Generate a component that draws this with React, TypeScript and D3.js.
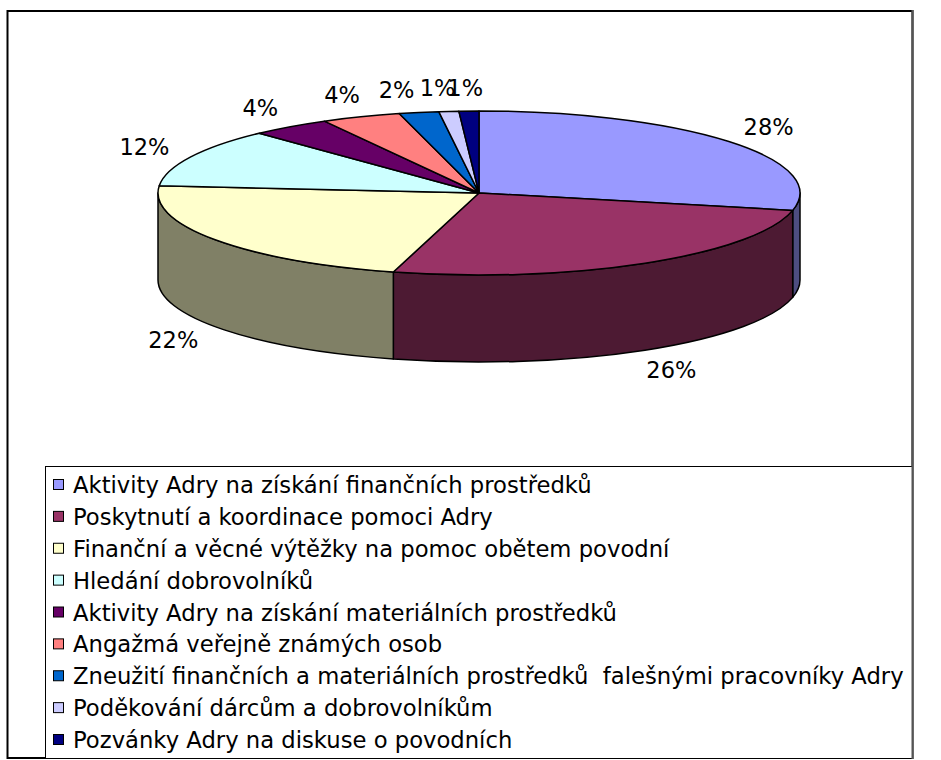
import * as d3 from 'd3';
import { useEffect, useRef } from 'react';

const categories = [
  'Aktivity Adry na získání finančních prostředků',
  'Poskytnutí a koordinace pomoci Adry',
  'Finanční a věcné výtěžky na pomoc obětem povodní',
  'Hledání dobrovolníků',
  'Aktivity Adry na získání materiálních prostředků',
  'Angažmá veřejně známých osob',
  'Zneužití finančních a materiálních prostředků  falešnými pracovníky Adry',
  'Poděkování dárcům a dobrovolníkům',
  'Pozvánky Adry na diskuse o povodních',
];
const shares = [28.4, 25.9, 22.1, 11.6, 4.0, 4.0, 2.0, 1.0, 1.0];
const percentLabels = ['28%', '26%', '22%', '12%', '4%', '4%', '2%', '1%', '1%'];
const colors = ['#9999FF', '#993366', '#FFFFCC', '#CCFFFF', '#660066', '#FF8080', '#0066CC', '#CCCCFF', '#000080'];

const W = 941;
const H = 760;
const FONT = 'DejaVu Sans, Verdana, sans-serif';

function Pie3D() {
  const ref = useRef<SVGSVGElement | null>(null);

  useEffect(() => {
    const svg = d3.select(ref.current);
    svg.selectAll('*').remove();

    const cx = 479;
    const cy = 193;
    const rx = 321;
    const ry = 82;
    const depth = 87;

    // chart area border
    svg.append('rect')
      .attr('x', 7.5).attr('y', 11)
      .attr('width', 905).attr('height', 747)
      .attr('fill', '#fff').attr('stroke', '#000').attr('stroke-width', 2);

    const arcs = d3.pie<number>().sort(null).value((d) => d)(shares);

    const pt = (a: number, dy = 0) => [cx + rx * Math.sin(a), cy - ry * Math.cos(a) + dy];
    const dark = (c: string) => {
      const k = d3.rgb(c);
      return d3.rgb(k.r * 0.5, k.g * 0.5, k.b * 0.5).formatHex();
    };

    // front side walls
    const g = svg.append('g').attr('stroke', '#000').attr('stroke-width', 1.5).attr('stroke-linejoin', 'round');
    arcs.forEach((d, i) => {
      const a0 = Math.max(d.startAngle, Math.PI / 2);
      const a1 = Math.min(d.endAngle, (3 * Math.PI) / 2);
      if (a1 <= a0) return;
      const [x0, y0] = pt(a0);
      const [x1, y1] = pt(a1);
      const large = a1 - a0 > Math.PI ? 1 : 0;
      const path = `M${x0},${y0}A${rx},${ry} 0 ${large} 1 ${x1},${y1}`
        + `L${x1},${y1 + depth}A${rx},${ry} 0 ${large} 0 ${x0},${y0 + depth}Z`;
      g.append('path').attr('d', path).attr('fill', dark(colors[i]));
    });

    // top faces
    arcs.forEach((d, i) => {
      const [x0, y0] = pt(d.startAngle);
      const [x1, y1] = pt(d.endAngle);
      const large = d.endAngle - d.startAngle > Math.PI ? 1 : 0;
      const path = `M${cx},${cy}L${x0},${y0}A${rx},${ry} 0 ${large} 1 ${x1},${y1}Z`;
      g.append('path').attr('d', path).attr('fill', colors[i]);
    });

    // data labels (small slices pushed a bit further out, like Excel does)
    const lry = 105;
    svg.append('g')
      .selectAll('text')
      .data(arcs)
      .enter()
      .append('text')
      .attr('x', (d) => {
        const m = (d.startAngle + d.endAngle) / 2;
        const lrx = d.value <= 2 ? 440 : 372;
        return cx + lrx * Math.sin(m);
      })
      .attr('y', (d) => {
        const m = (d.startAngle + d.endAngle) / 2;
        return cy - lry * Math.cos(m) + (Math.cos(m) < 0 ? depth : 0) + 8;
      })
      .attr('text-anchor', 'middle')
      .attr('font-family', FONT)
      .attr('font-size', 22.5)
      .attr('fill', '#000')
      .text((d, i) => percentLabels[i]);

    // legend
    const lg = svg.append('g');
    lg.append('rect')
      .attr('x', 45.5).attr('y', 466.5)
      .attr('width', 867).attr('height', 292)
      .attr('fill', '#fff').attr('stroke', '#000').attr('stroke-width', 1);
    const row = d3.scaleLinear().domain([0, categories.length - 1]).range([493, 748]);
    categories.forEach((c, i) => {
      lg.append('rect')
        .attr('x', 53.5).attr('y', row(i) - 13.5)
        .attr('width', 10).attr('height', 10)
        .attr('fill', colors[i]).attr('stroke', '#000').attr('stroke-width', 1);
      lg.append('text')
        .attr('x', 73).attr('y', row(i))
        .attr('font-family', FONT)
        .attr('font-size', 22.7)
        .style('white-space', 'pre')
        .attr('fill', '#000')
        .text(c);
    });

    // right edge shadow line
    svg.append('line')
      .attr('x1', 912.5).attr('x2', 912.5).attr('y1', 10).attr('y2', 759)
      .attr('stroke', '#555').attr('stroke-width', 2);
  }, []);

  return <svg ref={ref} width={W} height={H} style={{ position: 'absolute', left: 0, top: 0 }} />;
}

export default function App() {
  return <Pie3D />;
}
